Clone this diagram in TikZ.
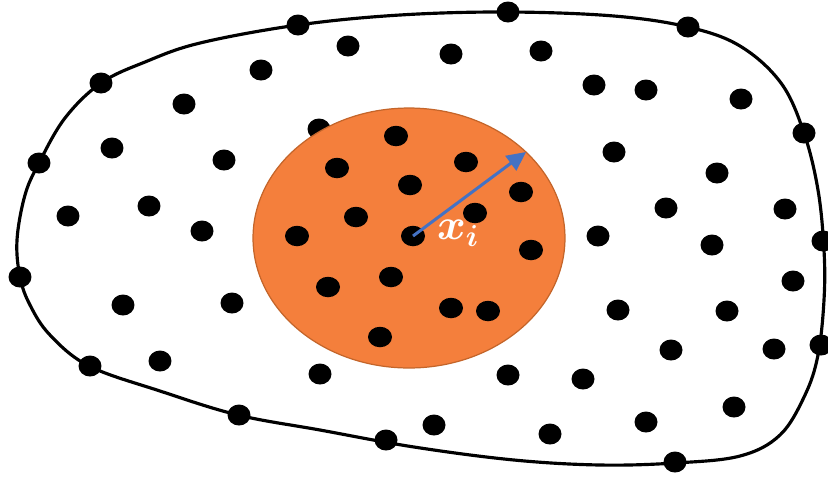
\documentclass[tikz,border=0pt]{standalone}
\usepackage{bm}
\usetikzlibrary{arrows.meta}
\definecolor{disc}{HTML}{F47F3C}
\definecolor{discrim}{HTML}{C4652A}
\definecolor{ray}{HTML}{4472C4}
\tikzset{pt/.style={fill=black},
  hull/.style={line width=1.8pt,draw=black},
  ball/.style={fill=disc,draw=discrim,line width=.7pt},
  radius arrow/.style={draw=ray,line width=1.7pt,-{Triangle[length=3.8mm,width=3.6mm]}}}

\begin{document}
\begin{tikzpicture}[x=.02cm,y=-.02cm]
\useasboundingbox (0,0) rectangle (828,478);
% outer boundary
\draw[hull] plot[smooth cycle,tension=.6] coordinates {
 (20,277) (17,240) (25,195) (39,163) (65,118) (101,83) (145,62) (200,43)
 (298,25) (400,15) (508,12) (614,16) (688,27) (740,46) (781,83) (804,133)
 (818,190) (824,250) (824,300) (818,355) (805,395) (780,435) (740,456)
 (675,463) (600,465) (514,460) (414,447) (320,430) (238,415) (160,391)
 (89,366) (50,335) (30,305)};
% points on the boundary
\foreach \x/\y in {298/25,101/83,39/163,508/12,688/27,804/133,823/241,20/277,
 90/366,239/415,386/440,675/462,821/345}
 \fill[pt] (\x,\y) ellipse [x radius=.23cm,y radius=.21cm];
% points outside the ball
\foreach \x/\y in {348/46,261/70,184/104,112/148,224/160,68/216,149/206,202/231,
 319/129,451/54,541/51,594/85,646/90,741/99,614/152,717/173,666/208,785/209,
 598/236,712/245,793/281,618/310,727/311,671/350,774/349,508/375,583/379,
 734/407,434/425,550/434,646/422,123/305,232/303,160/361,320/374}
 \fill[pt] (\x,\y) ellipse [x radius=.23cm,y radius=.21cm];
% the ball
\draw[ball] (409,238) ellipse [x radius=3.12cm,y radius=2.6cm];
\foreach \x/\y in {396/136,337/168,466/162,410/185,356/217,297/236,521/192,
 475/213,413/236,531/250,391/277,328/287,451/308,488/311,380/337}
 \fill[pt] (\x,\y) ellipse [x radius=.24cm,y radius=.205cm];
\coordinate (ctr) at (413,236);
\coordinate (edge) at (526,152);
\draw[radius arrow] (ctr) -- (edge);
\node[text=white,font=\fontsize{24}{28}\selectfont] (lbl) at (458,233) {$\bm{x}_{\bm{i}}$};
\end{tikzpicture}
\end{document}
